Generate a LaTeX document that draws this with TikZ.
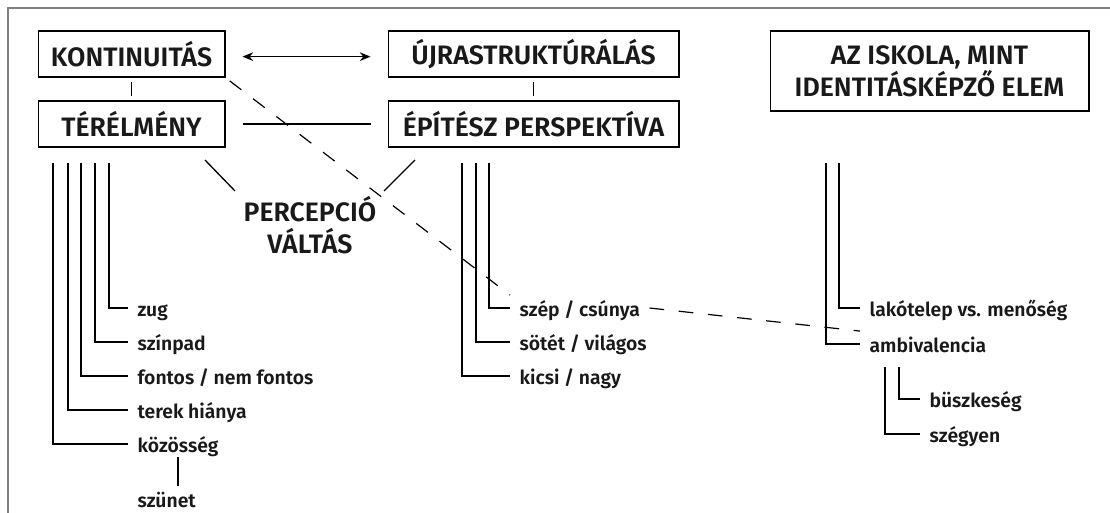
\documentclass[tikz,border=0pt]{standalone}
\usepackage{fontspec}
\setmainfont{Fira Sans}[UprightFont=* Medium, BoldFont=* SemiBold]
\usepackage{tikz}
\usetikzlibrary{arrows.meta, positioning}
\tikzstyle{topic} = [rectangle, draw=black, line width=1pt, text centered, text=black!90, font=\fontsize{20}{24}\selectfont\bfseries, minimum height=34.5pt]
\tikzstyle{leaf} = [anchor=west, inner xsep=7pt, inner ysep=3pt, text height=13pt, text depth=0pt, text=black!90, font=\fontsize{14.5}{18}\selectfont\bfseries]
\tikzstyle{link} = [line width=1pt]
\tikzstyle{arrow} = [line width=1pt, <->, >={Stealth[length=8pt,width=6.5pt]}]
\tikzstyle{crosslink} = [line width=0.9pt, dash pattern=on 11pt off 11pt]

\begin{document}
\begin{tikzpicture}[x=0.75pt, y=-0.75pt]
    \useasboundingbox (0,0) rectangle (1110,513);
    \draw [gray, line width=0.8pt] (8,513) -- (8,8) -- (1110,8);

    % main boxes
    \node (kont) [topic, minimum width=140pt] at (131.5,54) {KONTINUITÁS};
    \node (ujra) [topic, minimum width=218pt] at (533.5,54) {ÚJRASTRUKTÚRÁLÁS};
    \node (ter) [topic, minimum width=140pt] at (131.5,124) {TÉRÉLMÉNY};
    \node (epit) [topic, minimum width=218pt] at (533.5,124) {ÉPÍTÉSZ PERSPEKTÍVA};
    \node (iskola) [topic, minimum width=239pt, minimum height=60pt, align=center] at (929.5,71) {AZ ISKOLA, MINT\\IDENTITÁSKÉPZŐ ELEM};
    \node (perc) [align=center, text=black!90, font=\fontsize{20}{24}\selectfont\bfseries] at (310,225) {PERCEPCIÓ\\VÁLTÁS};

    \draw [arrow, shorten <=12.75pt, shorten >=12.75pt] ([yshift=-2pt]kont.east) -- ([yshift=-2pt]ujra.west);
    \draw [link, shorten <=12.75pt, shorten >=12.75pt] (ter) -- (epit);
    \draw [link, shorten <=3pt, shorten >=3pt] (kont) -- (ter);
    \draw [link, shorten <=3pt, shorten >=3pt] (ujra) -- (epit);

    \coordinate (d1) at (205,160);
    \coordinate (d2) at (235,191);
    \coordinate (d3) at (415,160);
    \coordinate (d4) at (384,191);
    \draw [link] (d1) -- (d2);
    \draw [link] (d3) -- (d4);

    % terelmeny
    \node (zug) [leaf] at (128,308) {zug};
    \node (szinpad) [leaf] at (128,342) {színpad};
    \node (fontos) [leaf] at (128,376) {fontos / nem fontos};
    \node (terek) [leaf] at (128,410) {terek hiánya};
    \node (kozosseg) [leaf] at (128,444) {közösség};
    \node (szunet) [leaf] at (128,499) {szünet};
    \foreach \x/\n in {53/kozosseg, 68/terek, 81/fontos, 95/szinpad, 109/zug} {
        \coordinate (top-\n) at (\x,163);
        \draw [link] (top-\n) |- (\n.west);
    }
    \draw [link] (kozosseg.south) -- (kozosseg.south |- szunet.north);

    % epitesz perspektiva
    \node (szep) [leaf] at (510,308) {szép / csúnya};
    \node (sotet) [leaf] at (510,342) {sötét / világos};
    \node (kicsi) [leaf] at (510,376) {kicsi / nagy};
    \foreach \x/\n in {462/kicsi, 476/sotet, 489/szep} {
        \coordinate (top-\n) at (\x,163);
        \draw [link] (top-\n) |- (\n.west);
    }

    % iskola
    \node (lako) [leaf] at (860,308) {lakótelep vs. menőség};
    \node (ambi) [leaf] at (860,344) {ambivalencia};
    \foreach \x/\n in {826/ambi, 839/lako} {
        \coordinate (top-\n) at (\x,163);
        \draw [link] (top-\n) |- (\n.west);
    }
    \node (buszke) [leaf] at (920,399) {büszkeség};
    \node (szegyen) [leaf] at (920,434) {szégyen};
    \foreach \x/\n in {885/szegyen, 899/buszke} {
        \coordinate (top-\n) at (\x,367);
        \draw [link] (top-\n) |- (\n.west);
    }

    \draw [crosslink, shorten <=4pt] (kont.south east) -- (szep.north west);
    \draw [crosslink] (szep.east) -- (ambi.north west);
\end{tikzpicture}
\end{document}
